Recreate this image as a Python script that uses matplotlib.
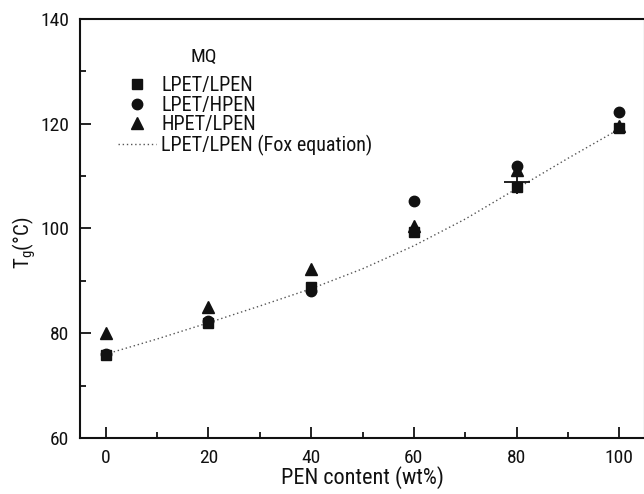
import matplotlib
matplotlib.use("Agg")
import matplotlib.pyplot as plt
from matplotlib import font_manager
from matplotlib.lines import Line2D
from matplotlib.ticker import MultipleLocator

# --- data -------------------------------------------------------------
pen_content = [0, 20, 40, 60, 80, 100]            # PEN content (wt%)
tg_lpet_lpen = [75.8, 82.0, 88.8, 99.3, 108.0, 119.2]
tg_lpet_hpen = [76.0, 82.4, 88.0, 105.2, 112.0, 122.2]
tg_hpet_lpen = [80.0, 85.0, 92.2, 100.5, 111.2, 119.5]

# spread of the LPET/LPEN measurement at 80 wt%
err_x = [80]
err_mean = [108.8]
err_half = [2.2]

# Fox-equation prediction for LPET/LPEN
fox_x = [0, 10, 20, 30, 40, 50, 60, 70, 80, 90, 100]
fox_tg = [76.0, 78.9, 82.0, 85.2, 88.5, 92.3, 96.7, 101.8, 107.6, 113.4, 119.0]

x_ticks = [0, 20, 40, 60, 80, 100]
y_ticks = [60, 80, 100, 120, 140]

# --- fonts: prefer a narrow sans face ----------------------------------
entries = font_manager.fontManager.ttflist
names = {f.name for f in entries}
family, stretch = "Liberation Sans", "normal"
for cand in ["Liberation Sans Narrow", "Roboto Condensed", "Open Sans Condensed",
             "DejaVu Sans Condensed"]:
    if cand in names:
        family = cand
        break
else:
    for f in entries:
        if f.name == "DejaVu Sans" and str(f.stretch) in ("condensed", "semi-condensed"):
            family, stretch = "DejaVu Sans", "condensed"
            break
plt.rcParams["font.family"] = [family, "DejaVu Sans"]
plt.rcParams["font.stretch"] = stretch
plt.rcParams["mathtext.fontset"] = "custom"
plt.rcParams["mathtext.rm"] = family

ink = "#111111"
fig = plt.figure(figsize=(6.44, 4.94), dpi=100)
ax = fig.add_axes([80 / 644, 56 / 494, 565 / 644, 419 / 494])

# Fox curve
ax.plot(fox_x, fox_tg, linestyle=(0, (1, 2)), color="#555555", lw=1.0, zorder=1)

# measured points
ax.plot(pen_content, tg_lpet_lpen, "s", color=ink, ms=6.5, zorder=3)
ax.plot(pen_content, tg_lpet_hpen, "o", color=ink, ms=7.5, zorder=3)
ax.plot(pen_content, tg_hpet_lpen, "^", color=ink, ms=8, zorder=3)
ax.errorbar(err_x, err_mean, yerr=err_half, fmt="_", color=ink,
            ms=19, mew=1.3, elinewidth=1.3, capsize=0, zorder=2)

ax.set_xlim(-5, 105)
ax.set_ylim(60, 140)
ax.set_xticks(x_ticks)
ax.set_yticks(y_ticks)
ax.xaxis.set_minor_locator(MultipleLocator(10))
ax.yaxis.set_minor_locator(MultipleLocator(10))
ax.tick_params(which="both", direction="in", width=1.3, colors=ink)
ax.tick_params(which="major", length=8)
ax.tick_params(which="minor", length=4.5)
ax.tick_params(axis="x", which="major", pad=8, labelsize=14)
ax.tick_params(axis="y", which="major", pad=8, labelsize=14)
for s in ax.spines.values():
    s.set_linewidth(1.5)
    s.set_color(ink)

ax.set_xlabel("PEN content (wt%)", fontsize=16, color=ink)
ax.set_ylabel(r"T$_{\mathrm{g}}$(°C)", fontsize=15, color=ink)
ax.xaxis.set_label_coords(0.5, -0.068)
ax.yaxis.set_label_coords(-0.074, 0.465)

# legend
handles = [
    Line2D([], [], marker="s", ls="none", color=ink, ms=6.5),
    Line2D([], [], marker="o", ls="none", color=ink, ms=7.5),
    Line2D([], [], marker="^", ls="none", color=ink, ms=8),
    Line2D([], [], ls=(0, (1, 2)), color="#555555", lw=1.0),
]
labels = ["LPET/LPEN", "LPET/HPEN", "HPET/LPEN", "LPET/LPEN (Fox equation)"]
leg = ax.legend(handles, labels, loc="upper left",
                bbox_to_anchor=(118 / 644, 1 - 76 / 494),
                bbox_transform=fig.transFigure, frameon=False,
                fontsize=14.5, handlelength=1.9, handletextpad=0.25,
                labelspacing=0.03, borderpad=0, borderaxespad=0)
for t in leg.get_texts():
    t.set_color(ink)
fig.text(204 / 644, 1 - 57 / 494, "MQ", fontsize=14, ha="center", va="center",
         color=ink)

fig.savefig("out.png", dpi=100)
